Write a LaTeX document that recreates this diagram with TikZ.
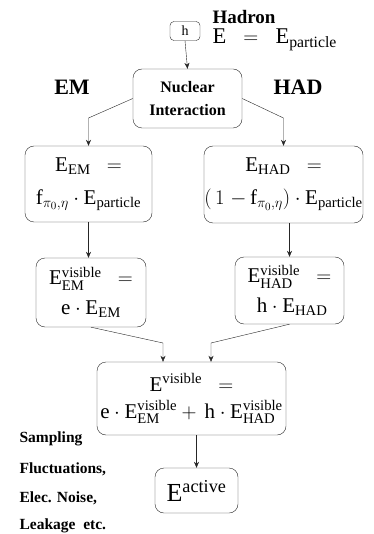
\documentclass[tikz,border=0pt]{standalone}
\usepackage{amsmath}
\usepackage{fontspec}
\setmainfont{Liberation Serif}
\usetikzlibrary{arrows.meta,positioning,calc}

\begin{document}
\begin{tikzpicture}[x=1pt,y=-1pt,>={Stealth[length=6pt,width=5pt]},
  bx/.style={draw=black!85,rounded corners=9pt,thin,align=center,inner sep=0pt},
  ar/.style={->,black!85,thin},
  lab/.style={font=\bfseries\fontsize{22}{24}\selectfont},
  note/.style={font=\bfseries\fontsize{15.5}{17}\selectfont,anchor=west},
  mt/.style={font=\fontsize{21}{33}\selectfont}]
\useasboundingbox (0,0) rectangle (373,534);
\node[bx,minimum width=30pt,minimum height=19pt,font=\fontsize{14}{16}\selectfont,rounded corners=4pt] (h) at (185,31) {$\mathrm{h}$};
\node[lab,font=\bfseries\fontsize{19}{21}\selectfont,anchor=west] (hadron) at (209,17) {Hadron};
\node[mt,font=\fontsize{22.5}{24}\selectfont,anchor=west] (eq) at (209,40) {$\mathrm{E}\ \;=\ \;\mathrm{E}_{\mathrm{particle}}$};
\node[bx,minimum width=109pt,minimum height=59pt,font=\bfseries\fontsize{16}{23}\selectfont] (nuc) at (187.5,98.5) {Nuclear\\Interaction};
\node[lab] (em) at (72,87) {EM};
\node[lab] (had) at (298,87) {HAD};
\node[bx,mt,minimum width=127pt,minimum height=76pt] (emb) at (88.5,184) {$\mathrm{E}_{\mathrm{EM}}\ \ =$\\$\mathrm{f}_{\pi_0,\eta}\cdot\mathrm{E}_{\mathrm{particle}}$};
\node[bx,mt,minimum width=159pt,minimum height=77pt] (hadb) at (283.5,184.5) {$\mathrm{E}_{\mathrm{HAD}}\ \ =$\\$(\,1\;{-}\,\mathrm{f}_{\pi_0,\eta})\cdot\mathrm{E}_{\mathrm{particle}}$};
\node[bx,mt,font=\fontsize{21}{30}\selectfont,minimum width=110pt,minimum height=69pt] (emv) at (91,292.5) {$\mathrm{E}_{\mathrm{EM}}^{\mathrm{visible}}\ \ =$\\$\mathrm{e}\cdot\mathrm{E}_{\mathrm{EM}}$};
\node[bx,mt,font=\fontsize{21}{30}\selectfont,minimum width=109pt,minimum height=67pt] (hadv) at (289.5,290.5) {$\mathrm{E}_{\mathrm{HAD}}^{\mathrm{visible}}\ \ =$\\$\ \mathrm{h}\cdot\mathrm{E}_{\mathrm{HAD}}$};
\node[bx,mt,font=\fontsize{21}{27}\selectfont,minimum width=189pt,minimum height=73pt] (vis) at (191.5,398.5) {$\mathrm{E}^{\mathrm{visible}}\ \ =$\\$\mathrm{e}\cdot\mathrm{E}_{\mathrm{EM}}^{\mathrm{visible}}+\,\mathrm{h}\cdot\mathrm{E}_{\mathrm{HAD}}^{\mathrm{visible}}$};
\node[bx,font=\fontsize{26}{28}\selectfont,minimum width=83pt,minimum height=45pt] (act) at (196.5,490.5) {$\mathrm{E}^{\mathrm{active}}$};
% side notes
\node[note] (n1) at (16,439) {Sampling};
\node[note] (n2) at (16,469) {Fluctuations,};
\node[note] (n3) at (16,498) {Elec. Noise,};
\node[note] (n4) at (16,526) {Leakage\ \ etc.};
% connectors
\draw[ar] (h.south) -- (nuc.north);
\draw[ar] (nuc.west) -- (emb.north |- 0,118) -- (emb.north);
\draw[ar] (nuc.east) -- (hadb.north |- 0,118) -- (hadb.north);
\draw[ar] (emb.south) -- (emb.south |- emv.north);
\draw[ar] (hadv.north |- hadb.south) -- (hadv.north);
\draw[ar] (emv.south) -- (163,343) -- (vis.north -| 163,0);
\draw[ar] (hadv.south) -- (211,343) -- (vis.north -| 211,0);
\draw[ar] (act.north |- vis.south) -- (act.north);
\end{tikzpicture}
\end{document}
